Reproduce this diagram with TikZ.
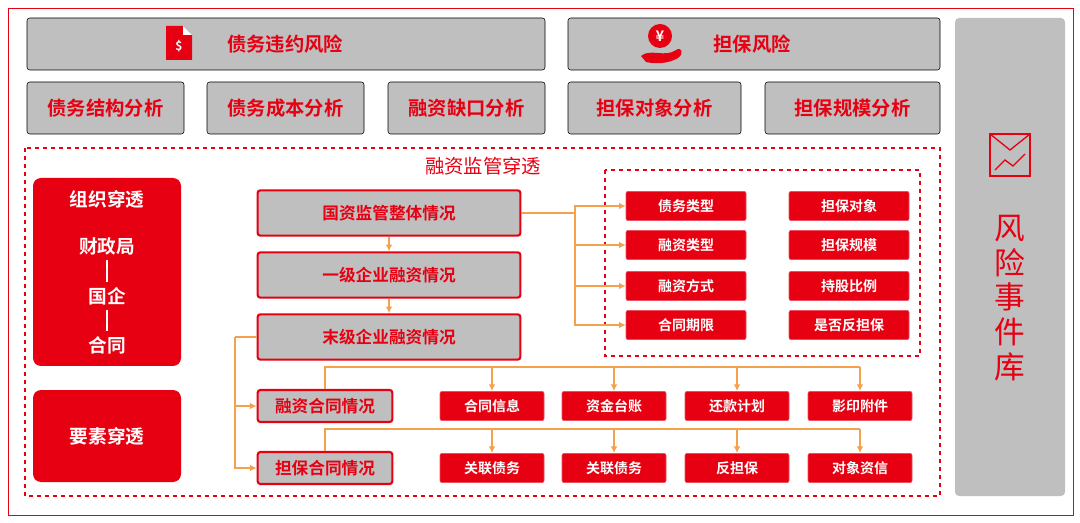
\documentclass[tikz,border=0pt]{standalone}
\usepackage{fontspec}
\setmainfont{Noto Sans CJK SC}[BoldFont={Noto Sans CJK SC Bold}]
\usetikzlibrary{arrows.meta}
\definecolor{hred}{HTML}{E60012}
\definecolor{hgray}{HTML}{BFBFBF}
\definecolor{horange}{HTML}{F5A04A}
\begin{document}
\begin{tikzpicture}[x=0.75pt,y=-0.75pt,
    topbox/.style={fill=hgray,rounded corners=2pt,text=hred,font=\bfseries\fontsize{14.5}{15}\selectfont},
    stepbox/.style={fill=hgray,draw=hred,line width=1.6pt,rounded corners=2pt,text=hred,font=\bfseries\fontsize{12.5}{13}\selectfont},
    itembox/.style={fill=hred,draw=hred!70,rounded corners=1.5pt,text=white,font=\bfseries\fontsize{10.5}{11}\selectfont,minimum width=78pt,minimum height=22pt},
    orgtext/.style={text=white,font=\bfseries\fontsize{14}{15}\selectfont},
    link/.style={draw=horange,line width=1.1pt},
    arr/.style={link,-{Latex[length=5pt,width=5pt]}}]
    \useasboundingbox (0,0) rectangle (1080,523);
    \draw[hred,line width=0.6pt](8,8)rectangle(1073,515);

    % top rows
    \draw[topbox](27,18)rectangle(545,70);
    \node[topbox,fill=none](debt)at(285,44){债务违约风险};
    \draw[topbox](568,18)rectangle(940,70);
    \node[topbox,fill=none](guar)at(752,44){担保风险};
    \foreach \n/\a/\b/\t in {a1/27/184/债务结构分析,a2/207/364/债务成本分析,a3/388/545/融资缺口分析,a4/568/741/担保对象分析,a5/765/940/担保规模分析}{
        \draw[topbox](\a,82)rectangle(\b,134);
        \node[topbox,fill=none](\n)at({(\a+\b)/2},108){\t};
    }
    % icons
    \fill[hred](166,26)--(183,26)--(192,35)--(192,60)--(166,60)--cycle;
    \fill[white](183,26)--(183,35)--(192,35)--cycle;
    \node[text=white,font=\bfseries\fontsize{9}{9}\selectfont](dollar)at(179,46){\$};
    \fill[hred](660,36)circle(12);
    \node[text=white,font=\bfseries\fontsize{11}{11}\selectfont](yen)at(660,36){¥};
    \fill[hred](641,56)..controls(650,48)and(665,58)..(676,50)..controls(682,46)and(684,54)..(678,58)..controls(668,64)and(655,64)..(646,62)--cycle;

    % right column
    \fill[hgray,rounded corners=3pt](955,18)rectangle(1065,496);
    \draw[hred,line width=1pt](990,134)rectangle(1030,176);
    \draw[hred,line width=1pt](990,134)--(1010,150)--(1030,134);
    \draw[hred,line width=1pt](995,170)--(1005,160)--(1013,166)--(1025,154);
    \node[text=hred,font=\fontsize{23}{26}\selectfont,align=center](lib)at(1010,298){风\\险\\事\\件\\库};

    % penetration area
    \draw[hred,dashed,line width=0.8pt](25,148)rectangle(940,496);
    \node[text=hred,font=\fontsize{14.5}{15}\selectfont](title)at(483,166){融资监管穿透};
    \fill[hred,rounded corners=6pt](33,178)rectangle(181,366);
    \node[orgtext](org)at(107,199){组织穿透};
    \node[orgtext](o1)at(107,246){财政局};
    \node[orgtext](o2)at(107,296){国企};
    \node[orgtext](o3)at(107,345){合同};
    \draw[white,line width=1.2pt](o1)--(o2);
    \draw[white,line width=1.2pt](o2)--(o3);
    \fill[hred,rounded corners=6pt](33,390)rectangle(181,482);
    \node[orgtext](elem)at(107,436){要素穿透};

    % main steps
    \node[stepbox,minimum width=197pt,minimum height=34pt](s1)at(389,213){国资监管整体情况};
    \node[stepbox,minimum width=197pt,minimum height=34pt](s2)at(389,275){一级企业融资情况};
    \node[stepbox,minimum width=197pt,minimum height=34pt](s3)at(389,337){末级企业融资情况};
    \node[stepbox,minimum width=101pt,minimum height=24pt](c1)at(325,406){融资合同情况};
    \node[stepbox,minimum width=101pt,minimum height=24pt](c2)at(325,468){担保合同情况};
    \draw[arr](s1)--(s2);
    \draw[arr](s2)--(s3);

    % indicator box
    \draw[hred,dashed,line width=0.8pt](605,170)rectangle(920,356);
    \foreach \n/\y/\t in {b1/206/债务类型,b2/245/融资类型,b3/286/融资方式,b4/325/合同期限}{
        \node[itembox,minimum width=90pt](\n)at(686,\y){\t};
    }
    \foreach \n/\y/\t in {d1/206/担保对象,d2/245/担保规模,d3/286/持股比例,d4/325/是否反担保}{
        \node[itembox,minimum width=90pt](\n)at(849,\y){\t};
    }
    \coordinate(split)at(575,213);
    \draw[link](s1.east)--(split);
    \foreach \n in {b1,b2,b3,b4}{
        \draw[arr](split)|-(\n.west);
    }

    % contracts
    \coordinate(fork)at(235,337);
    \draw[link](s3.west)--(fork);
    \draw[arr](fork)|-(c1.west);
    \draw[arr](fork)|-(c2.west);
    \foreach \n/\x/\t in {e1/492/合同信息,e2/614/资金台账,e3/737/还款计划,e4/860/影印附件}{
        \node[itembox](\n)at(\x,406){\t};
    }
    \foreach \n/\x/\t in {f1/492/关联债务,f2/614/关联债务,f3/737/反担保,f4/860/对象资信}{
        \node[itembox](\n)at(\x,468){\t};
    }
    \coordinate(bus1)at(325,367);
    \coordinate(bus2)at(325,429);
    \draw[link](c1.north)--(bus1)--(bus1-|e4);
    \draw[link](c2.north)--(bus2)--(bus2-|f4);
    \foreach \n in {e1,e2,e3,e4}{\draw[arr](bus1-|\n)--(\n.north);}
    \foreach \n in {f1,f2,f3,f4}{\draw[arr](bus2-|\n)--(\n.north);}
\end{tikzpicture}
\end{document}
